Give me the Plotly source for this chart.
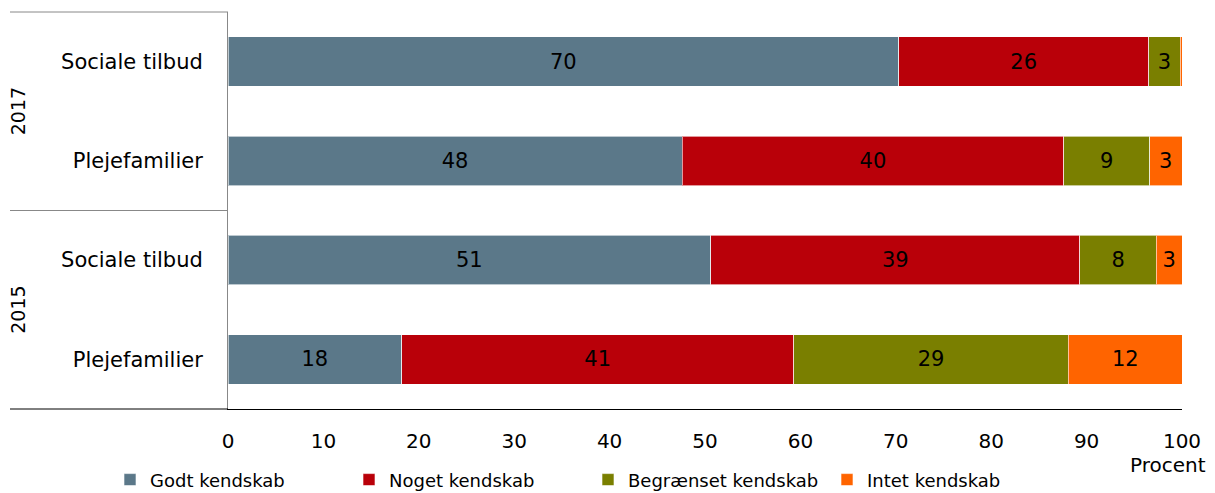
import plotly.graph_objects as go

years = ["2017", "2017", "2015", "2015"]
groups = ["Sociale tilbud", "Plejefamilier", "Sociale tilbud", "Plejefamilier"]
series_names = ["Godt kendskab", "Noget kendskab", "Begrænset kendskab", "Intet kendskab"]
godt = [70.3, 47.6, 50.6, 18.2]
noget = [26.2, 40.0, 38.7, 41.1]
begraenset = [3.3, 9.0, 8.0, 28.8]
intet = [0.2, 3.4, 2.7, 11.9]
x_ticks = [0, 10, 20, 30, 40, 50, 60, 70, 80, 90, 100]
colors = ["#5B7889", "#B90009", "#7A7F00", "#FF6400"]

keys = [f"{y} {g}" for y, g in zip(years, groups)]
FONT = "DejaVu Sans, Verdana, sans-serif"

fig = go.Figure()
for name, vals, col in zip(series_names, [godt, noget, begraenset, intet], colors):
    labels = [f"{v:.0f}" if v >= 1 else "" for v in vals]
    fig.add_trace(go.Bar(
        y=keys, x=vals, name=name, orientation="h",
        marker=dict(color=col, line=dict(color="rgba(255,255,255,0.6)", width=1)),
        text=labels, textposition="inside", insidetextanchor="middle",
        textfont=dict(color="black", size=21, family=FONT),
        hoverinfo="x+name",
    ))

# page body has an 8px margin, so the figure is sized/offset to compensate
fig.update_layout(
    barmode="stack", bargap=0.5,
    width=1207, height=485,
    margin=dict(l=220, r=33, t=4, b=84, autoexpand=False),
    paper_bgcolor="white", plot_bgcolor="white",
    font=dict(family=FONT, size=20, color="black"),
    showlegend=True,
    legend=dict(orientation="h", x=(110 - 228) / 954, xanchor="left", y=-0.132, yanchor="top",
                font=dict(size=18), entrywidth=194, entrywidthmode="pixels",
                traceorder="normal", itemclick=False),
)
fig.update_xaxes(range=[0, 100], tickvals=x_ticks, ticktext=[str(t) for t in x_ticks],
                 showgrid=False, zeroline=False, showline=True, linecolor="black",
                 linewidth=1, ticks="", ticklabelstandoff=14,
                 tickfont=dict(size=20))
fig.update_yaxes(categoryorder="array", categoryarray=keys, autorange="reversed",
                 tickvals=keys, ticktext=groups, showgrid=False, zeroline=False,
                 showline=True, linecolor="#888888", linewidth=1, ticks="",
                 ticklabelstandoff=20, tickfont=dict(size=21))

left = (10 - 228) / 954
fig.add_shape(type="line", xref="paper", yref="paper", x0=left, x1=0, y0=1, y1=1,
              line=dict(color="#888888", width=1))
fig.add_shape(type="line", xref="paper", yref="paper", x0=left, x1=0, y0=0.5, y1=0.5,
              line=dict(color="#888888", width=1))
fig.add_shape(type="line", xref="paper", yref="paper", x0=left, x1=0, y0=0, y1=0,
              line=dict(color="black", width=1))

for yr, yp in [("2017", 0.75), ("2015", 0.25)]:
    fig.add_annotation(text=yr, xref="paper", yref="paper", x=(18 - 228) / 954, y=yp,
                       textangle=-90, showarrow=False, font=dict(size=19),
                       xanchor="center", yanchor="middle")

fig.add_annotation(text="Procent", xref="paper", yref="paper", x=1.0, xshift=26,
                   xanchor="right", y=-(465 - 409) / 397, yanchor="middle",
                   showarrow=False, font=dict(size=20))

fig.write_html("out.html")
